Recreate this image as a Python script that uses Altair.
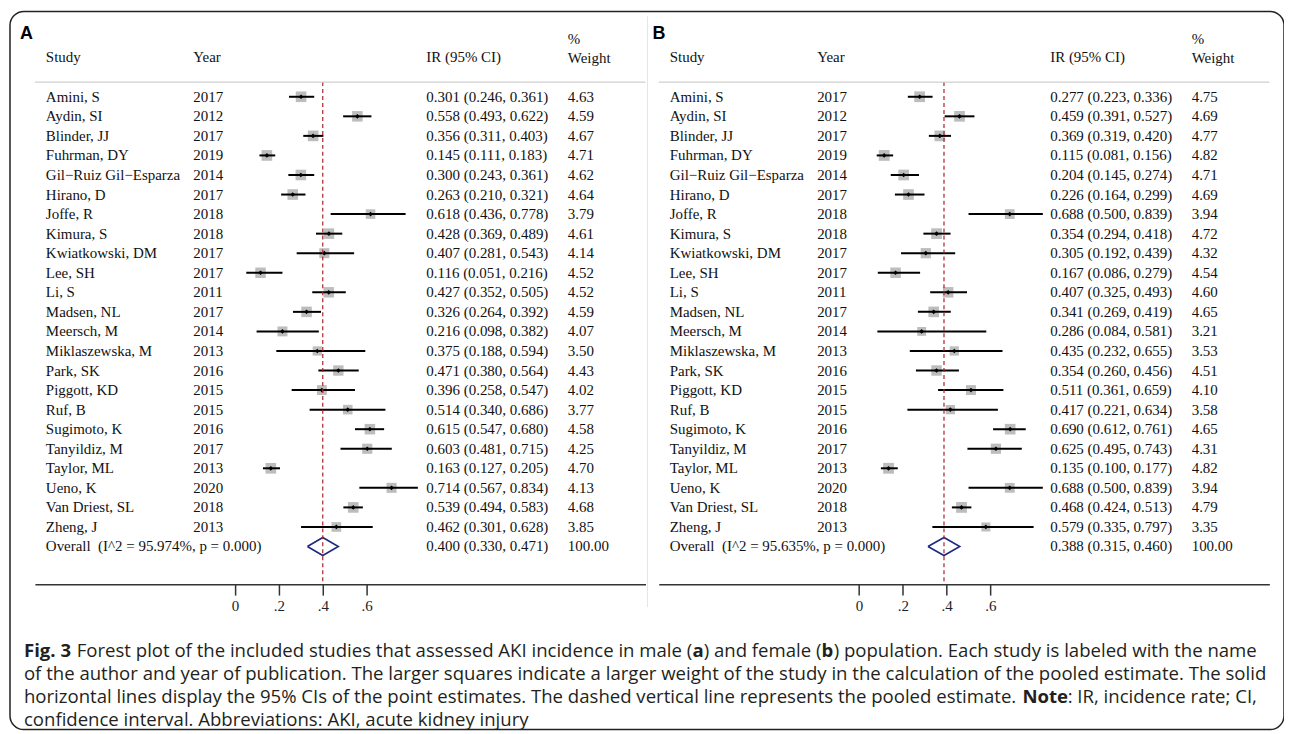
import altair as alt
import pandas as pd

# ---------------- data ----------------
studies = ["Amini, S", "Aydin, SI", "Blinder, JJ", "Fuhrman, DY", "Gil\u2212Ruiz Gil\u2212Esparza",
           "Hirano, D", "Joffe, R", "Kimura, S", "Kwiatkowski, DM", "Lee, SH", "Li, S",
           "Madsen, NL", "Meersch, M", "Miklaszewska, M", "Park, SK", "Piggott, KD", "Ruf, B",
           "Sugimoto, K", "Tanyildiz, M", "Taylor, ML", "Ueno, K", "Van Driest, SL", "Zheng, J"]
years_m = [2017, 2012, 2017, 2019, 2014, 2017, 2018, 2018, 2017, 2017, 2011, 2017, 2014, 2013,
           2016, 2015, 2015, 2016, 2017, 2013, 2020, 2018, 2013]
years_f = years_m

ir_m = [0.301, 0.558, 0.356, 0.145, 0.300, 0.263, 0.618, 0.428, 0.407, 0.116, 0.427, 0.326,
        0.216, 0.375, 0.471, 0.396, 0.514, 0.615, 0.603, 0.163, 0.714, 0.539, 0.462]
lo_m = [0.246, 0.493, 0.311, 0.111, 0.243, 0.210, 0.436, 0.369, 0.281, 0.051, 0.352, 0.264,
        0.098, 0.188, 0.380, 0.258, 0.340, 0.547, 0.481, 0.127, 0.567, 0.494, 0.301]
hi_m = [0.361, 0.622, 0.403, 0.183, 0.361, 0.321, 0.778, 0.489, 0.543, 0.216, 0.505, 0.392,
        0.382, 0.594, 0.564, 0.547, 0.686, 0.680, 0.715, 0.205, 0.834, 0.583, 0.628]
wt_m = [4.63, 4.59, 4.67, 4.71, 4.62, 4.64, 3.79, 4.61, 4.14, 4.52, 4.52, 4.59, 4.07, 3.50,
        4.43, 4.02, 3.77, 4.58, 4.25, 4.70, 4.13, 4.68, 3.85]
overall_m = [0.400, 0.330, 0.471]
i2_m = "95.974"

ir_f = [0.277, 0.459, 0.369, 0.115, 0.204, 0.226, 0.688, 0.354, 0.305, 0.167, 0.407, 0.341,
        0.286, 0.435, 0.354, 0.511, 0.417, 0.690, 0.625, 0.135, 0.688, 0.468, 0.579]
lo_f = [0.223, 0.391, 0.319, 0.081, 0.145, 0.164, 0.500, 0.294, 0.192, 0.086, 0.325, 0.269,
        0.084, 0.232, 0.260, 0.361, 0.221, 0.612, 0.495, 0.100, 0.500, 0.424, 0.335]
hi_f = [0.336, 0.527, 0.420, 0.156, 0.274, 0.299, 0.839, 0.418, 0.439, 0.279, 0.493, 0.419,
        0.581, 0.655, 0.456, 0.659, 0.634, 0.761, 0.743, 0.177, 0.839, 0.513, 0.797]
wt_f = [4.75, 4.69, 4.77, 4.82, 4.71, 4.69, 3.94, 4.72, 4.32, 4.54, 4.60, 4.65, 3.21, 3.53,
        4.51, 4.10, 3.58, 4.65, 4.31, 4.82, 3.94, 4.79, 3.35]
overall_f = [0.388, 0.315, 0.460]
i2_f = "95.635"

tick_values = [0, 0.2, 0.4, 0.6]

caption_lines = [
    [("Fig. 3", True),
     (" Forest plot of the included studies that assessed AKI incidence in male (", False),
     ("a", True), (") and female (", False), ("b", True),
     (") population. Each study is labeled with the name", False)],
    [("of the author and year of publication. The larger squares indicate a larger weight of the "
      "study in the calculation of the pooled estimate. The solid", False)],
    [("horizontal lines display the 95% CIs of the point estimates. The dashed vertical line "
      "represents the pooled estimate.", False), (" Note", True), (": IR, incidence rate; CI,", False)],
    [("confidence interval. Abbreviations: AKI, acute kidney injury", False)],
]

# ---------------- layout / style ----------------
W, H = 1279, 721
SERIF = "Liberation Serif"
SANS = "Open Sans"
TXT = "#111111"
XDOM = [-0.9136, 1.8727]
AX_Y = 575
YSC = alt.Scale(domain=[0, 23], range=[85.7, 537.2])
PANEL_OFF = 626.3


def label(text, x, y, font=SERIF, size=15, weight="normal", align="left", color=TXT):
    return alt.Chart(pd.DataFrame({"t": [text]})).mark_text(
        align=align, baseline="middle", font=font, fontSize=size, fontWeight=weight, color=color
    ).encode(x=alt.value(x), y=alt.value(y), text="t:N")


def panel(letter, years, ir, lo, hi, wt, ov, i2, off, letter_x):
    df = pd.DataFrame({"row": list(range(len(studies))), "study": studies,
                       "year": [str(v) for v in years], "ir": ir, "lo": lo, "hi": hi, "w": wt})
    df["ci"] = [f"{a:.3f} ({b:.3f}, {c:.3f})" for a, b, c in zip(ir, lo, hi)]
    df["wtxt"] = [f"{v:.2f}" for v in wt]
    ovrow = pd.DataFrame({"row": [23], "study": [f"Overall\u00a0 (I^2 = {i2}%, p = 0.000)"], "year": [""],
                          "ci": [f"{ov[0]:.3f} ({ov[1]:.3f}, {ov[2]:.3f})"], "wtxt": ["100.00"]})
    tdf = pd.concat([df[["row", "study", "year", "ci", "wtxt"]], ovrow], ignore_index=True)

    xs = alt.Scale(domain=XDOM, range=[25 + off, 638 + off])
    xaxis = alt.Axis(values=tick_values, orient="bottom", offset=AX_Y - H, tickSize=11,
                     labelExpr="datum.value == 0 ? '0' : replace(format(datum.value, '.1f'), '0.', '.')",
                     title=None, grid=False, labelFont=SERIF, labelFontSize=15, labelColor="#222",
                     labelPadding=3, labelFlush=False, labelOverlap=False,
                     domainColor="#333", domainWidth=1.5, tickColor="#333", tickWidth=1.5)
    ych = alt.Y("row:Q", scale=YSC, axis=None)

    base = alt.Chart(df)
    squares = base.mark_square(color="#bdbdbd", opacity=1).encode(
        x=alt.X("ir:Q", scale=xs, axis=xaxis), y=ych,
        size=alt.Size("w:Q", scale=alt.Scale(domain=[0, 5], range=[0, 122]), legend=None))
    ci = base.mark_rule(color="black", strokeWidth=2).encode(
        x=alt.X("lo:Q", scale=xs), x2="hi:Q", y=ych)
    pts = base.mark_point(shape="diamond", filled=True, color="black", size=22, opacity=1).encode(
        x=alt.X("ir:Q", scale=xs), y=ych)

    dia = pd.DataFrame({"x": [ov[1], ov[0], ov[2], ov[0], ov[1]],
                        "y": [23, 22.54, 23, 23.46, 23], "o": [0, 1, 2, 3, 4]})
    diamond = alt.Chart(dia).mark_line(color="#1c2a84", strokeWidth=1.6).encode(
        x=alt.X("x:Q", scale=xs), y=alt.Y("y:Q", scale=YSC, axis=None), order="o:Q")

    pooled = alt.Chart(pd.DataFrame({"x": [ov[0]]})).mark_rule(
        color="#a8232a", strokeDash=[4, 3], strokeWidth=1.2).encode(
        x=alt.X("x:Q", scale=xs), y=alt.value(71), y2=alt.value(AX_Y))

    hrule = alt.Chart(pd.DataFrame({"a": [0]})).mark_rule(color="#c4c4c4", strokeWidth=1).encode(
        x=alt.value(25 + off), x2=alt.value(638 + off), y=alt.value(71))

    tbase = alt.Chart(tdf)
    tstyle = dict(align="left", baseline="middle", font=SERIF, fontSize=15, color=TXT)
    t_study = tbase.mark_text(**tstyle).encode(x=alt.value(36 + off), y=ych, text="study:N")
    t_year = tbase.mark_text(**tstyle).encode(x=alt.value(184 + off), y=ych, text="year:N")
    t_ci = tbase.mark_text(**tstyle).encode(x=alt.value(418 + off), y=ych, text="ci:N")
    t_w = tbase.mark_text(**tstyle).encode(x=alt.value(560 + off), y=ych, text="wtxt:N")

    heads = [
        label(letter, letter_x, 23, font="Liberation Sans", size=18, weight="bold", color="#000"),
        label("Study", 36 + off, 46),
        label("Year", 184 + off, 46),
        label("IR (95% CI)", 418 + off, 46),
        label("%", 560 + off, 28),
        label("Weight", 560 + off, 47),
    ]
    return alt.layer(squares, ci, pts, diamond, pooled, hrule, t_study, t_year, t_ci, t_w, *heads)


pA = panel("A", years_m, ir_m, lo_m, hi_m, wt_m, overall_m, i2_m, 0, 10)
pB = panel("B", years_f, ir_f, lo_f, hi_f, wt_f, overall_f, i2_f, PANEL_OFF, 645)

# ---------------- caption ----------------
OSW = {' ': 532, 'a': 1139, 'b': 1255, 'c': 975, 'd': 1255, 'e': 1149, 'f': 694, 'g': 1122,
       'h': 1257, 'i': 518, 'j': 518, 'k': 1075, 'l': 518, 'm': 1905, 'n': 1257, 'o': 1237,
       'p': 1255, 'q': 1255, 'r': 836, 's': 977, 't': 723, 'u': 1257, 'v': 1026, 'w': 1593,
       'x': 1073, 'y': 1028, 'z': 977, 'A': 1296, 'B': 1327, 'C': 1292, 'D': 1493, 'E': 1139,
       'F': 1057, 'G': 1491, 'H': 1511, 'I': 571, 'J': 547, 'K': 1257, 'L': 1073, 'M': 1849,
       'N': 1544, 'O': 1595, 'P': 1233, 'Q': 1595, 'R': 1266, 'S': 1124, 'T': 1149, 'U': 1481,
       'V': 1223, 'W': 1878, 'X': 1200, 'Y': 1165, 'Z': 1130, '.': 545, ',': 500, '(': 594,
       ')': 594, ':': 545, ';': 545, '%': 1702, '-': 659}
CAP_FS = 18.65


def tw(s, bold=False):
    return sum(OSW.get(c, 1171) for c in s) / 2048 * CAP_FS * (1.07 if bold else 1.0)


cap_layers = []
cap_y = [642, 665, 688, 711]
for line, yy in zip(caption_lines, cap_y):
    x = 14
    for seg, bold in line:
        lead = len(seg) - len(seg.lstrip(" "))
        body = seg.strip(" ")
        trail = len(seg) - len(seg.rstrip(" "))
        x += tw(" " * lead)
        cap_layers.append(label(body, round(x, 1), yy, font=SANS, size=CAP_FS,
                                weight="bold" if bold else "normal", color="#231f20"))
        x += tw(body, bold) + tw(" " * trail)

divider = alt.Chart(pd.DataFrame({"a": [0]})).mark_rule(color="#e6e6e6", strokeWidth=1).encode(
    x=alt.value(640), y=alt.value(5), y2=alt.value(598))

chart = alt.layer(pA, pB, divider, *cap_layers).resolve_scale(x="independent").properties(
    width=W, height=H,
    autosize=alt.AutoSizeParams(type="none"),
    padding={"left": 2, "top": 2, "right": 0, "bottom": 0},
    background="white",
).configure_view(stroke="#222", strokeWidth=1.5, cornerRadius=14)

chart.save("out.html", embed_options={"renderer": "svg", "actions": False})
